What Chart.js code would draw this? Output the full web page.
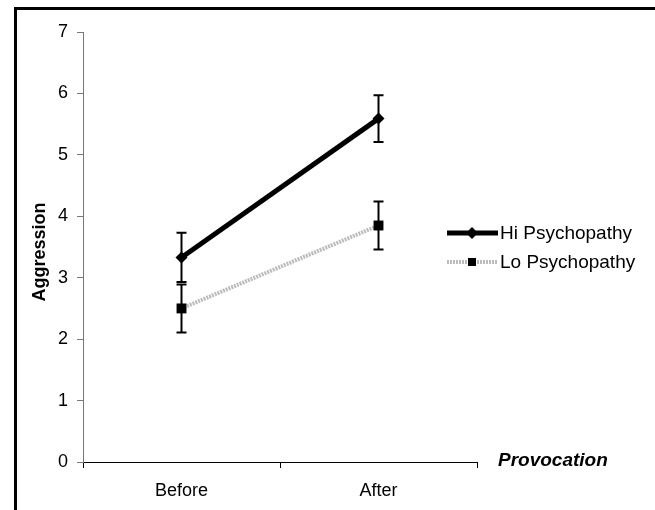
<!DOCTYPE html>
<html>
<head>
<meta charset="utf-8">
<script src="https://cdn.jsdelivr.net/npm/chart.js@4/dist/chart.umd.min.js"></script>
<style>
    body { margin: 0; background: #fff; }
    #wrap { position: relative; width: 655px; height: 510px; overflow: hidden; }
    #frame { position: absolute; left: 14px; top: 7px; width: 700px; height: 600px;
             border-left: 3px solid #000; border-top: 3px solid #000; }
    canvas { position: absolute; left: 0; top: 0; }
</style>
</head>
<body>
<div id="wrap">
    <div id="frame"></div>
    <canvas id="chart" width="655" height="510"></canvas>
</div>
<script>
const categories = ['Before', 'After'];
const hiValues = [3.33, 5.59];
const hiErrors = [0.40, 0.38];
const loValues = [2.50, 3.85];
const loErrors = [0.39, 0.39];
const yTicks = [0, 1, 2, 3, 4, 5, 6, 7];

const FONT = '"Liberation Sans", Arial, sans-serif';

// error bars drawn from the data arrays through the chart's own scales
const errorBars = {
    id: 'errorBars',
    afterDatasetsDraw(chart) {
        const ctx = chart.ctx;
        const ys = chart.scales.y;
        chart.data.datasets.forEach((ds, i) => {
            const meta = chart.getDatasetMeta(i);
            meta.data.forEach((pt, j) => {
                const v = ds.data[j];
                const e = ds.errors[j];
                const top = ys.getPixelForValue(v + e);
                const bot = ys.getPixelForValue(v - e);
                ctx.save();
                ctx.strokeStyle = '#000';
                ctx.lineWidth = 2;
                ctx.beginPath();
                ctx.moveTo(pt.x, top); ctx.lineTo(pt.x, bot);
                ctx.moveTo(pt.x - 5, top); ctx.lineTo(pt.x + 5, top);
                ctx.moveTo(pt.x - 5, bot); ctx.lineTo(pt.x + 5, bot);
                ctx.stroke();
                ctx.restore();
            });
        });
    }
};

// legend, y title and the "Provocation" label
const extras = {
    id: 'extras',
    afterDraw(chart) {
        const ctx = chart.ctx;
        ctx.save();
        ctx.fillStyle = '#000';
        ctx.textBaseline = 'middle';

        ctx.save();
        ctx.translate(40, 252);
        ctx.rotate(-Math.PI / 2);
        ctx.textAlign = 'center';
        ctx.font = 'bold 18px ' + FONT;
        ctx.fillText('Aggression', 0, 0);
        ctx.restore();

        ctx.font = 'italic bold 19px ' + FONT;
        ctx.fillText('Provocation', 498, 461);

        // Hi legend entry
        ctx.strokeStyle = '#000';
        ctx.lineWidth = 5;
        ctx.beginPath(); ctx.moveTo(447, 233); ctx.lineTo(498, 233); ctx.stroke();
        ctx.beginPath();
        ctx.moveTo(472, 227); ctx.lineTo(478, 233); ctx.lineTo(472, 239); ctx.lineTo(466, 233);
        ctx.closePath(); ctx.fill();

        // Lo legend entry
        ctx.strokeStyle = '#bcbcbc';
        ctx.lineWidth = 4;
        ctx.setLineDash([2, 1]);
        ctx.beginPath(); ctx.moveTo(447, 262); ctx.lineTo(498, 262); ctx.stroke();
        ctx.setLineDash([]);
        ctx.fillRect(468, 258, 8, 8);

        ctx.font = '19px ' + FONT;
        ctx.fillText('Hi Psychopathy', 500, 234);
        ctx.fillText('Lo Psychopathy', 500, 263);
        ctx.restore();
    }
};

const createChart = () => {
    const data = {
        labels: categories,
        datasets: [
            {
                label: 'Hi Psychopathy',
                data: hiValues,
                errors: hiErrors,
                borderColor: '#000',
                backgroundColor: '#000',
                borderWidth: 5,
                pointStyle: 'rectRot',
                pointRadius: 6,
                pointBorderWidth: 0,
            },
            {
                label: 'Lo Psychopathy',
                data: loValues,
                errors: loErrors,
                borderColor: '#bcbcbc',
                backgroundColor: '#000',
                borderWidth: 4,
                borderDash: [2, 1],
                pointStyle: 'rect',
                pointRadius: 7,
                pointBorderWidth: 0,
            },
        ]
    };

    const config = {
        type: 'line',
        data,
        plugins: [errorBars, extras],
        options: {
            responsive: false,
            animation: false,
            layout: { padding: { left: 31, top: 32, right: 178, bottom: 0 } },
            plugins: { legend: { display: false }, tooltip: { enabled: false } },
            scales: {
                x: {
                    offset: true,
                    afterFit: s => { s.height = 48; },
                    grid: { offset: true, drawOnChartArea: false, tickLength: 6, color: '#000' },
                    border: { color: '#000', width: 1 },
                    ticks: { color: '#000', font: { family: FONT, size: 18 }, padding: 12 },
                },
                y: {
                    min: 0,
                    max: 7,
                    afterFit: s => { s.width = 52; },
                    afterBuildTicks: s => { s.ticks = yTicks.map(v => ({ value: v })); },
                    grid: { drawOnChartArea: false, tickLength: 6, color: '#777' },
                    border: { color: '#777', width: 1 },
                    ticks: { color: '#000', font: { family: FONT, size: 18 }, padding: 9 },
                },
            },
        }
    };

    new Chart(document.getElementById('chart'), config);
};

window.onload = () => {
    createChart();
};
</script>
</body>
</html>
